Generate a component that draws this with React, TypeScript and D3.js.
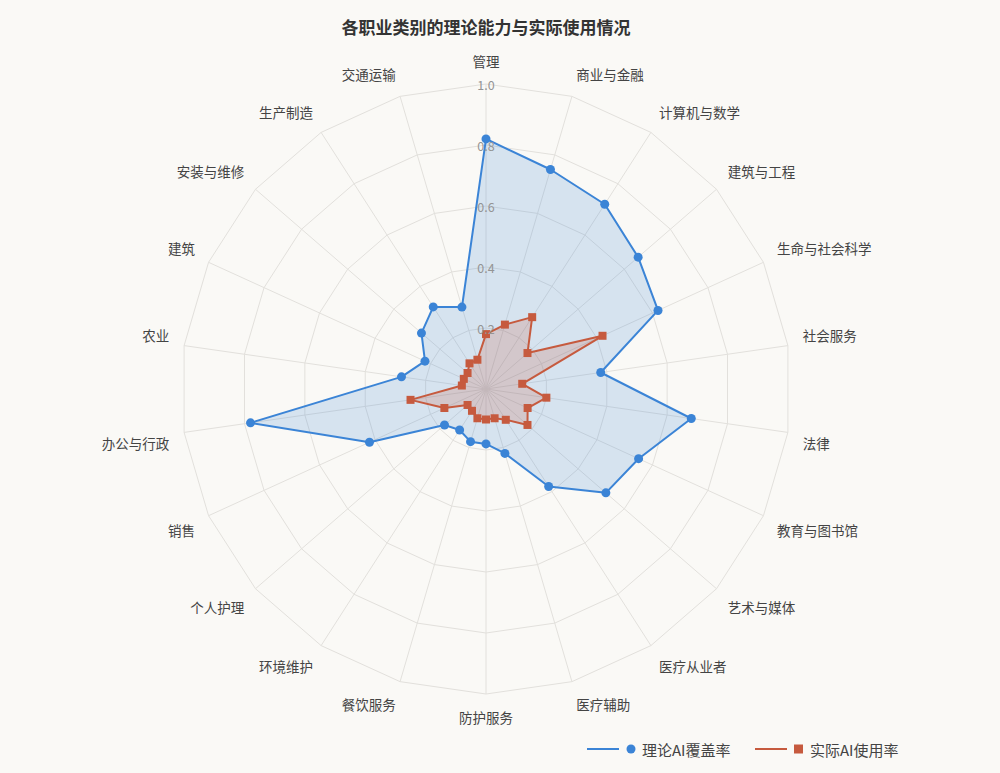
import { useEffect, useRef } from 'react'
import * as d3 from 'd3'

const categories = [
  '管理', '商业与金融', '计算机与数学', '建筑与工程', '生命与社会科学', '社会服务',
  '法律', '教育与图书馆', '艺术与媒体', '医疗从业者', '医疗辅助', '防护服务',
  '餐饮服务', '环境维护', '个人护理', '销售', '办公与行政', '农业',
  '建筑', '安装与维修', '生产制造', '交通运输',
]

const theoryCoverage = [
  0.82, 0.75, 0.72, 0.66, 0.62, 0.38, 0.68, 0.55, 0.52, 0.38, 0.22,
  0.18, 0.18, 0.16, 0.18, 0.42, 0.78, 0.28, 0.22, 0.28, 0.32, 0.28,
]

const actualUsage = [
  0.18, 0.22, 0.28, 0.18, 0.42, 0.12, 0.2, 0.15, 0.18, 0.12, 0.1,
  0.1, 0.1, 0.085, 0.08, 0.15, 0.25, 0.08, 0.08, 0.08, 0.1, 0.1,
]

const ticks = [0.2, 0.4, 0.6, 0.8, 1.0]
const tickLabels = ['0.2', '0.4', '0.6', '0.8', '1.0']

const seriesNames = ['理论AI覆盖率', '实际AI使用率']

const width = 1000
const height = 773
const FONT = '"Noto Sans CJK SC", "Noto Sans", sans-serif'

export default function App() {
  const svgRef = useRef<SVGSVGElement>(null)

  useEffect(() => {
    if (!svgRef.current) return
    const svg = d3.select(svgRef.current)
    svg.selectAll('*').remove()

    const cx = 486
    const cy = 389
    const radius = 305
    const n = categories.length

    const rScale = d3.scaleLinear().domain([0, 1]).range([0, radius])
    const angle = (i: number) => (i * 2 * Math.PI) / n
    const px = (i: number, v: number) => rScale(v) * Math.sin(angle(i))
    const py = (i: number, v: number) => -rScale(v) * Math.cos(angle(i))

    svg.append('rect').attr('width', width).attr('height', height).attr('fill', '#faf9f6')

    // title
    svg
      .append('text')
      .attr('x', cx)
      .attr('y', 26)
      .attr('text-anchor', 'middle')
      .attr('dominant-baseline', 'central')
      .attr('font-family', FONT)
      .attr('font-size', 17)
      .attr('font-weight', 700)
      .attr('fill', '#333')
      .text('各职业类别的理论能力与实际使用情况')

    const g = svg.append('g').attr('transform', `translate(${cx},${cy})`)

    // polygon grid
    const ring = d3
      .lineRadial<number>()
      .angle((_, i) => angle(i))
      .radius((d) => rScale(d))
      .curve(d3.curveLinearClosed)

    ticks.forEach((t) => {
      g.append('path')
        .attr('d', ring(categories.map(() => t)))
        .attr('fill', 'none')
        .attr('stroke', '#e2e0dc')
        .attr('stroke-width', 1)
    })

    // spokes
    g.selectAll('.spoke')
      .data(categories)
      .enter()
      .append('line')
      .attr('x1', 0)
      .attr('y1', 0)
      .attr('x2', (_, i) => px(i, 1))
      .attr('y2', (_, i) => py(i, 1))
      .attr('stroke', '#e2e0dc')
      .attr('stroke-width', 1)

    // series
    const area = d3
      .lineRadial<number>()
      .angle((_, i) => angle(i))
      .radius((d) => rScale(d))
      .curve(d3.curveLinearClosed)

    const series = [
      { values: theoryCoverage, color: '#3b84d6', fill: 'rgba(59,132,214,0.19)', shape: 'circle' },
      { values: actualUsage, color: '#c65a3e', fill: 'rgba(198,90,62,0.2)', shape: 'square' },
    ]

    series.forEach((s) => {
      g.append('path')
        .attr('d', area(s.values))
        .attr('fill', s.fill)
        .attr('stroke', s.color)
        .attr('stroke-width', 2)
        .attr('stroke-linejoin', 'round')

      if (s.shape === 'circle') {
        g.selectAll(null)
          .data(s.values)
          .enter()
          .append('circle')
          .attr('cx', (d, i) => px(i, d))
          .attr('cy', (d, i) => py(i, d))
          .attr('r', 4.5)
          .attr('fill', s.color)
      } else {
        g.selectAll(null)
          .data(s.values)
          .enter()
          .append('rect')
          .attr('x', (d, i) => px(i, d) - 4)
          .attr('y', (d, i) => py(i, d) - 4)
          .attr('width', 8)
          .attr('height', 8)
          .attr('fill', s.color)
      }
    })

    // tick labels along first axis
    g.selectAll('.tick-label')
      .data(ticks)
      .enter()
      .append('text')
      .attr('x', 0)
      .attr('y', (d) => -rScale(d))
      .attr('text-anchor', 'middle')
      .attr('dominant-baseline', 'central')
      .attr('font-family', FONT)
      .attr('font-size', 12.5)
      .attr('fill', '#949494')
      .text((_, i) => tickLabels[i])

    // category names
    const nameGap = 15
    g.selectAll('.name')
      .data(categories)
      .enter()
      .append('text')
      .attr('x', (_, i) => px(i, 1) + nameGap * Math.sin(angle(i)))
      .attr('y', (_, i) => {
        const c = Math.cos(angle(i))
        const y = py(i, 1) - nameGap * c
        if (Math.abs(c) < 0.01) return y
        return c > 0 ? y - 8 : y + 8
      })
      .attr('text-anchor', (_, i) => {
        const s = Math.sin(angle(i))
        if (Math.abs(s) < 0.01) return 'middle'
        return s > 0 ? 'start' : 'end'
      })
      .attr('dominant-baseline', 'central')
      .attr('font-family', FONT)
      .attr('font-size', 13.5)
      .attr('fill', '#444')
      .text((d) => d)

    // legend
    const legend = svg.append('g').attr('transform', 'translate(0,749)')
    const items = [
      { x: 587, color: series[0].color, shape: 'circle', label: seriesNames[0] },
      { x: 755, color: series[1].color, shape: 'square', label: seriesNames[1] },
    ]
    items.forEach((it) => {
      legend
        .append('line')
        .attr('x1', it.x)
        .attr('x2', it.x + 32)
        .attr('y1', 0)
        .attr('y2', 0)
        .attr('stroke', it.color)
        .attr('stroke-width', 2)
      if (it.shape === 'circle') {
        legend.append('circle').attr('cx', it.x + 44).attr('cy', 0).attr('r', 4.5).attr('fill', it.color)
      } else {
        legend
          .append('rect')
          .attr('x', it.x + 39)
          .attr('y', -4.5)
          .attr('width', 9)
          .attr('height', 9)
          .attr('fill', it.color)
      }
      legend
        .append('text')
        .attr('x', it.x + 55)
        .attr('y', 0)
        .attr('dominant-baseline', 'central')
        .attr('font-family', FONT)
        .attr('font-size', 15)
        .attr('fill', '#444')
        .text(it.label)
    })
  }, [])

  return (
    <div style={{ position: 'absolute', left: 0, top: 0 }}>
      <svg ref={svgRef} width={width} height={height} style={{ display: 'block' }} />
    </div>
  )
}
